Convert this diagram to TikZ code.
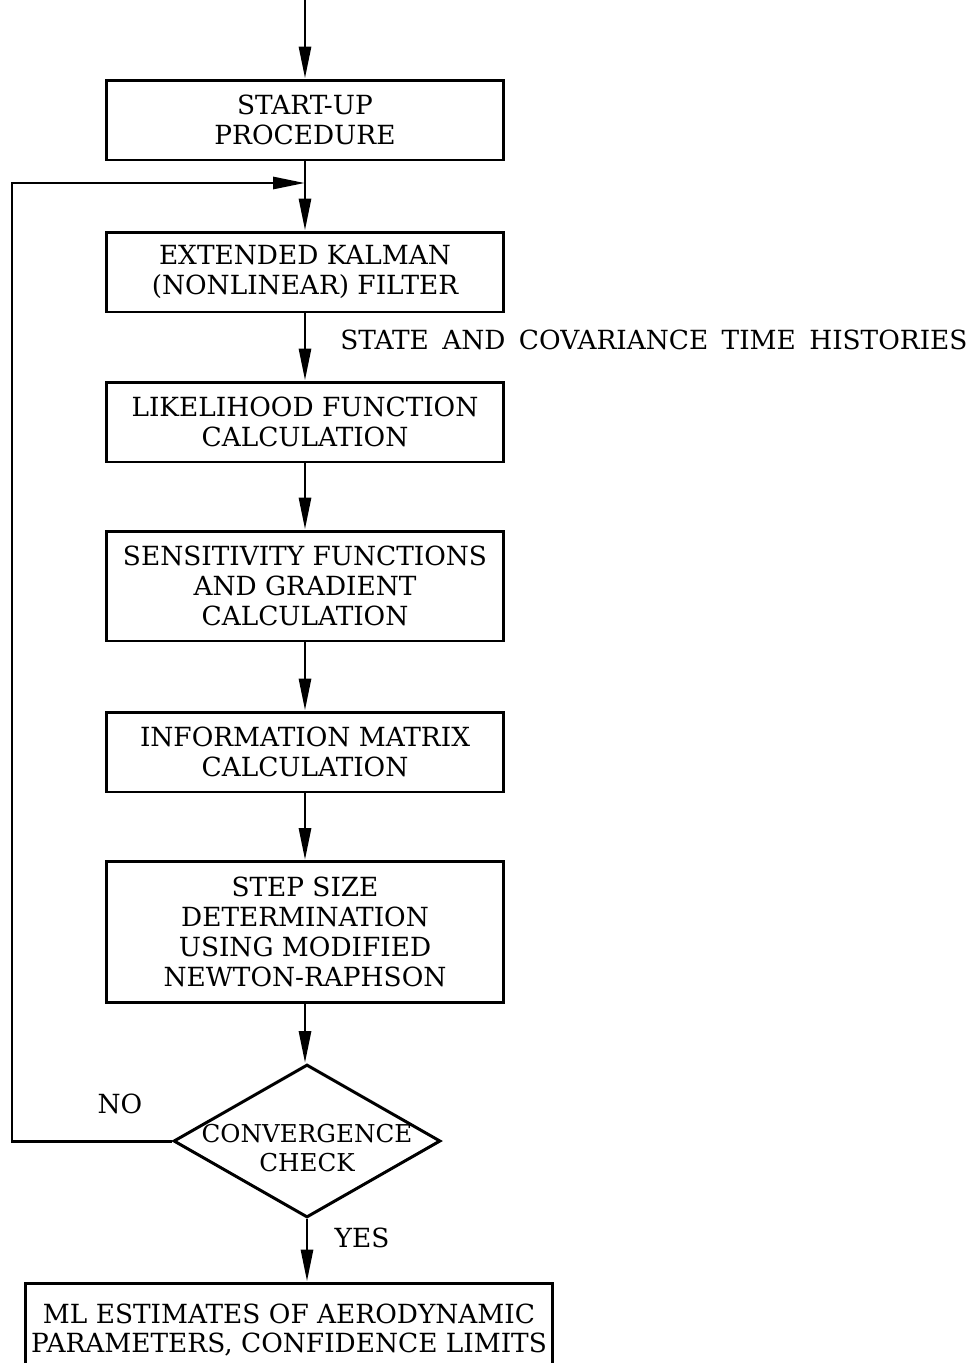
\documentclass[tikz,border=0pt]{standalone}
\usepackage{fontspec}
\setmainfont{DejaVu Serif}
\newfontfamily\histfont{DejaVu Serif}[WordSpace=1.6]
\usepackage{tikz}
\usetikzlibrary{arrows.meta,shapes.geometric}
\tikzset{
  procbox/.style={draw,line width=1.7pt,minimum width=7.96cm,minimum height=1.6cm,align=center,inner sep=2pt},
  decnode/.style={diamond,draw,line width=1.7pt,minimum width=5.34cm,minimum height=3.06cm,inner sep=0pt},
  flowline/.style={line width=1.7pt},
  flowedge/.style={flowline,-{Triangle[length=0.64cm,width=0.24cm]}},
  lbltext/.style={inner sep=0pt},
}

\begin{document}
\begin{tikzpicture}[x=0.02cm,y=-0.02cm,font=\fontsize{15}{17}\selectfont]
  \useasboundingbox (0,0) rectangle (971,1363);
  \coordinate (cIn) at (305,0);
  \node[procbox] (nStart) at (305,120) {START-UP\\PROCEDURE};
  \coordinate (cJoin) at (305,183);
  \node[procbox] (nEKF) at (305,272) {EXTENDED KALMAN\\(NONLINEAR) FILTER};
  \node[procbox] (nLik) at (305,422) {LIKELIHOOD FUNCTION\\CALCULATION};
  \node[procbox,minimum height=2.2cm] (nSens) at (305,586) {SENSITIVITY FUNCTIONS\\AND GRADIENT\\CALCULATION};
  \node[procbox] (nInfo) at (305,752) {INFORMATION MATRIX\\CALCULATION};
  \node[procbox,minimum height=2.82cm] (nStep) at (305,932) {STEP SIZE\\DETERMINATION\\USING MODIFIED\\NEWTON-RAPHSON};
  \node[decnode,label={[align=center,yshift=-0.14cm,font=\fontsize{14}{17}\selectfont]center:CONVERGENCE\\CHECK}] (nConv) at (307,1141) {};
  \coordinate (cLoop) at (12,1141);
  \node[procbox,minimum width=10.56cm,minimum height=1.88cm] (nML) at (289,1330) {ML ESTIMATES OF AERODYNAMIC\\PARAMETERS, CONFIDENCE LIMITS};
  \node[lbltext,anchor=west,font=\histfont\fontsize{15}{17}\selectfont] (lHist) at (340,340) {STATE AND COVARIANCE TIME HISTORIES};
  \node[lbltext] (lNo) at (120,1104) {NO};
  \node[lbltext] (lYes) at (362,1238) {YES};
  \draw[flowedge] (cIn) -- (nStart);
  \draw[flowline] (nStart) -- (cJoin);
  \draw[flowedge] (cJoin) -- (nEKF);
  \draw[flowedge] (nEKF) -- (nLik);
  \draw[flowedge] (nLik) -- (nSens);
  \draw[flowedge] (nSens) -- (nInfo);
  \draw[flowedge] (nInfo) -- (nStep);
  \draw[flowedge] (nStep) -- (nStep |- nConv.north);
  \draw[flowedge] (nConv.south) -- (nConv.south |- nML.north);
  \draw[flowedge] (nConv.west) -- (cLoop) |- (cJoin);
\end{tikzpicture}
\end{document}
